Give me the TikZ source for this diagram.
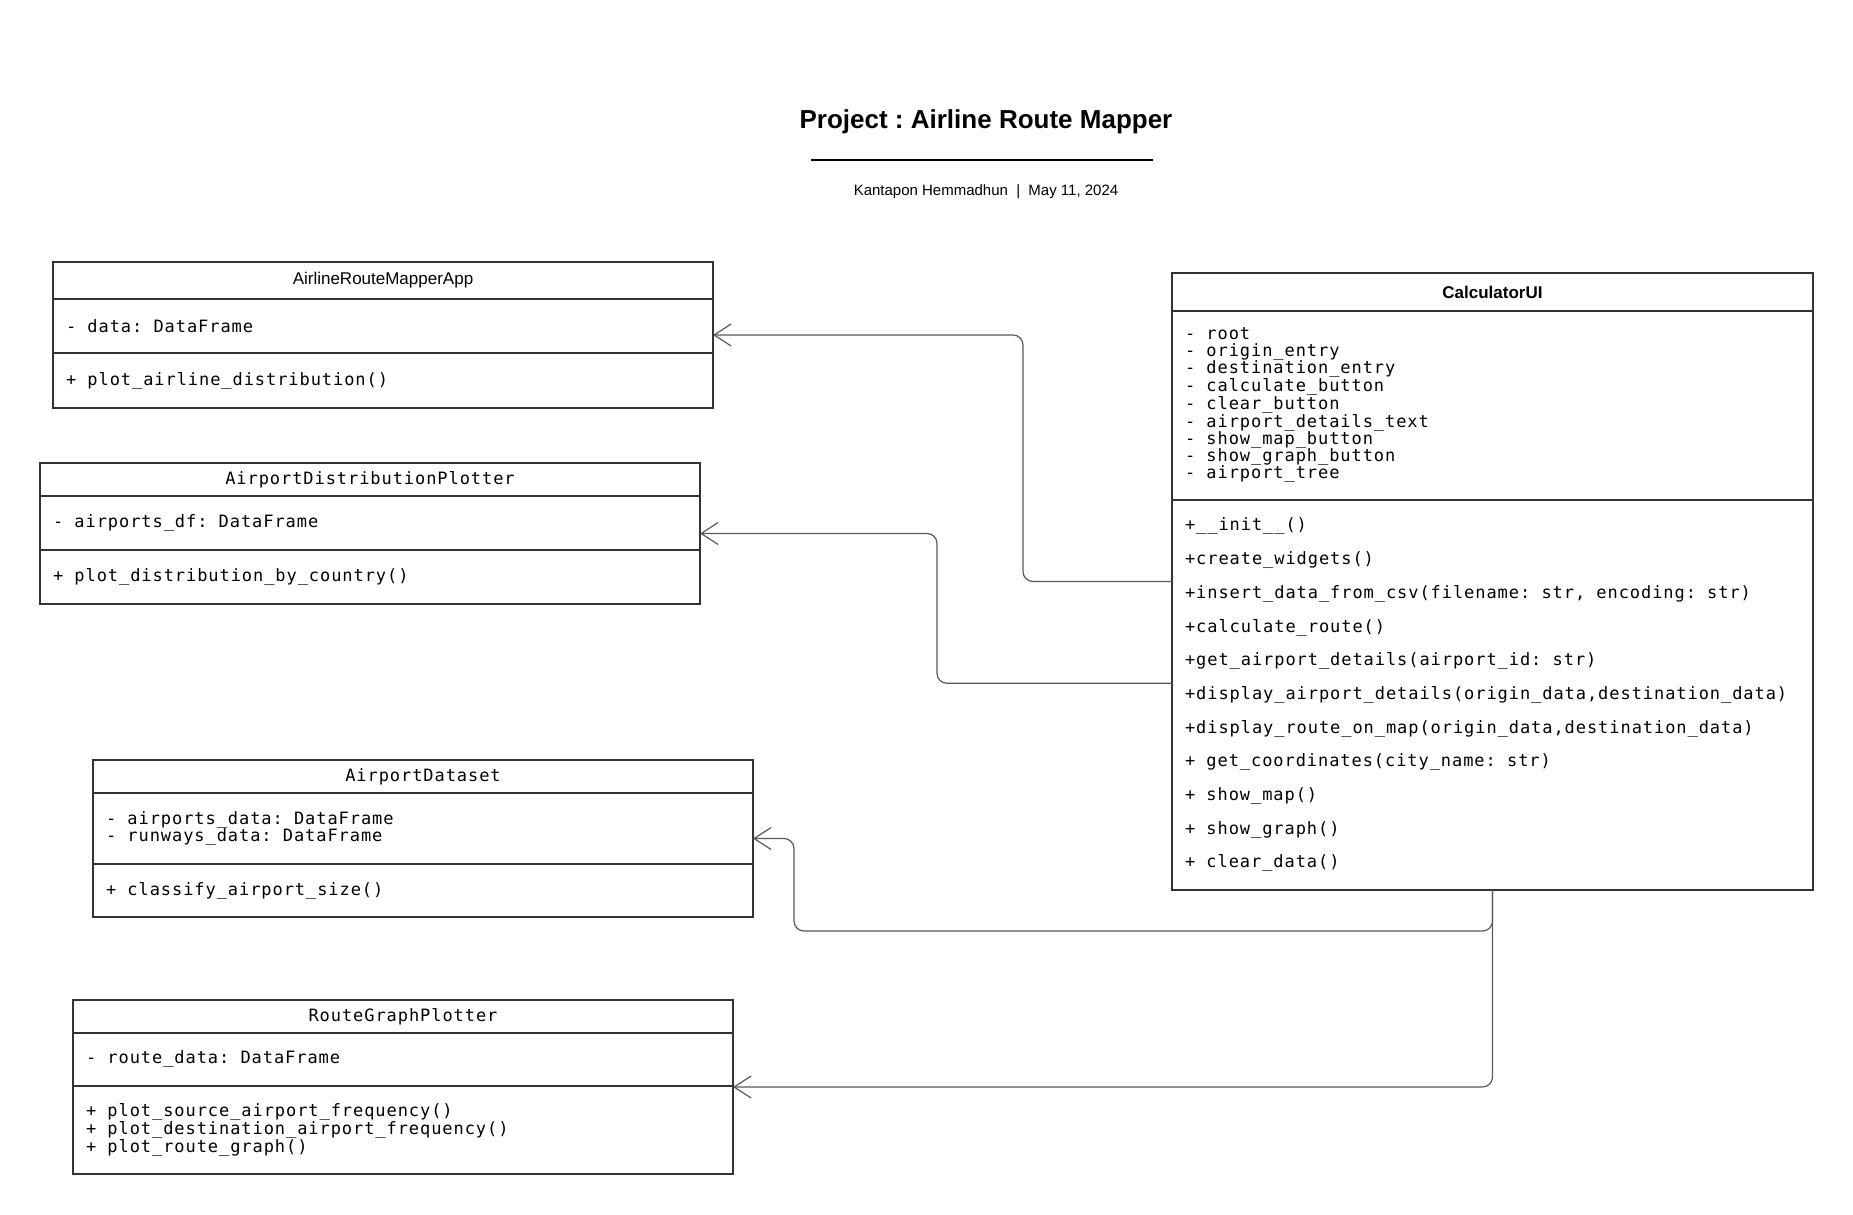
\documentclass[tikz,border=0pt]{standalone}
\usepackage{fontspec}
\setmainfont{Liberation Sans}
\newfontfamily\monofont[LetterSpace=5.5]{DejaVu Sans Mono}
\usetikzlibrary{positioning,calc,arrows.meta}
\definecolor{boxline}{HTML}{333333}
\definecolor{linkline}{HTML}{595959}
\newcommand{\codefont}{\monofont\fontsize{17}{17}\selectfont\frenchspacing\spaceskip=11.2pt\relax}
\newcommand{\methodfont}{\monofont\fontsize{17}{33.7}\selectfont\frenchspacing\spaceskip=11.2pt\relax}

\tikzset{
  compart/.style={draw=boxline, line width=1.8pt, outer sep=0pt, inner xsep=13pt, inner ysep=0pt, align=flush left, font=\codefont},
  headbox/.style={compart, align=flush center},
  link/.style={draw=linkline, line width=1.2pt, rounded corners=10pt, -{Straight Barb[length=17pt,width=22pt]}},
}

\begin{document}
\frenchspacing
\begin{tikzpicture}[x=1pt, y=-1pt, node distance=0pt]
    \useasboundingbox (0,0) rectangle (1853,1215);

    % Title
    \node[font=\bfseries\fontsize{26}{30}\selectfont] (title) at (986,122) {Project : Airline Route Mapper};
    \draw[line width=1.8pt] (811,160) -- (1153,160);
    \node[font=\fontsize{15}{18}\selectfont] (author) at (986,192) {Kantapon Hemmadhun\hspace{0.55em}|\hspace{0.55em}May 11, 2024};

    % Define nodes
    \node[headbox, text width=634pt, minimum height=37pt, anchor=north, font=\fontsize{17}{19}\selectfont] (app) at (383,262) {AirlineRouteMapperApp};
    \node[compart, text width=634pt, minimum height=54pt, below=of app] (appA) {- data: DataFrame};
    \node[compart, text width=634pt, minimum height=55pt, below=of appA] (appM) {+ plot\_airline\_distribution()};

    \node[headbox, text width=634pt, minimum height=33pt, anchor=north] (dist) at (370,463) {AirportDistributionPlotter};
    \node[compart, text width=634pt, minimum height=54pt, below=of dist] (distA) {- airports\_df: DataFrame};
    \node[compart, text width=634pt, minimum height=54pt, below=of distA] (distM) {+ plot\_distribution\_by\_country()};

    \node[headbox, text width=634pt, minimum height=33pt, anchor=north] (ds) at (423,760) {AirportDataset};
    \node[compart, text width=634pt, minimum height=71pt, below=of ds] (dsA) {- airports\_data: DataFrame\\- runways\_data: DataFrame};
    \node[compart, text width=634pt, minimum height=53pt, below=of dsA] (dsM) {+ classify\_airport\_size()};

    \node[headbox, text width=634pt, minimum height=33pt, anchor=north] (rg) at (403,1000) {RouteGraphPlotter};
    \node[compart, text width=634pt, minimum height=53pt, below=of rg] (rgA) {- route\_data: DataFrame};
    \node[compart, text width=634pt, minimum height=88pt, below=of rgA] (rgM) {+ plot\_source\_airport\_frequency()\\+ plot\_destination\_airport\_frequency()\\+ plot\_route\_graph()};

    \node[headbox, text width=615pt, minimum height=38pt, anchor=north, font=\bfseries\fontsize{17}{20}\selectfont] (calc) at (1492.5,273) {CalculatorUI};
    \node[compart, text width=615pt, minimum height=189pt, below=of calc] (calcA) {- root\\- origin\_entry\\- destination\_entry\\- calculate\_button\\- clear\_button\\- airport\_details\_text\\- show\_map\_button\\- show\_graph\_button\\- airport\_tree};
    \node[compart, text width=615pt, minimum height=390pt, below=of calcA, font=\methodfont] (calcM) {+\_\_init\_\_()\\+create\_widgets()\\+insert\_data\_from\_csv(filename: str, encoding: str)\\+calculate\_route()\\+get\_airport\_details(airport\_id: str)\\+display\_airport\_details(origin\_data,destination\_data)\\+display\_route\_on\_map(origin\_data,destination\_data)\\+ get\_coordinates(city\_name: str)\\+ show\_map()\\+ show\_graph()\\+ clear\_data()};

    % Side points of the class boxes
    \coordinate (appE) at ($(app.north east)!.5!(appM.south east)$);
    \coordinate (distE) at ($(dist.north east)!.5!(distM.south east)$);
    \coordinate (dsE) at ($(ds.north east)!.5!(dsM.south east)$);
    \coordinate (rgE) at ($(rg.north east)!.5!(rgM.south east)$);

    % Draw arrows
    \draw[link] ($(calc.north west)!.5!(calcM.south west)$) -- ++(-149,0) |- (appE);
    \draw[link] ($(calc.north west)!.665!(calcM.south west)$) -- ++(-235,0) |- (distE);
    \draw[link] (calcM.south) |- (794,931) |- (dsE);
    \draw[link] (calcM.south) |- (rgE);
\end{tikzpicture}
\end{document}
